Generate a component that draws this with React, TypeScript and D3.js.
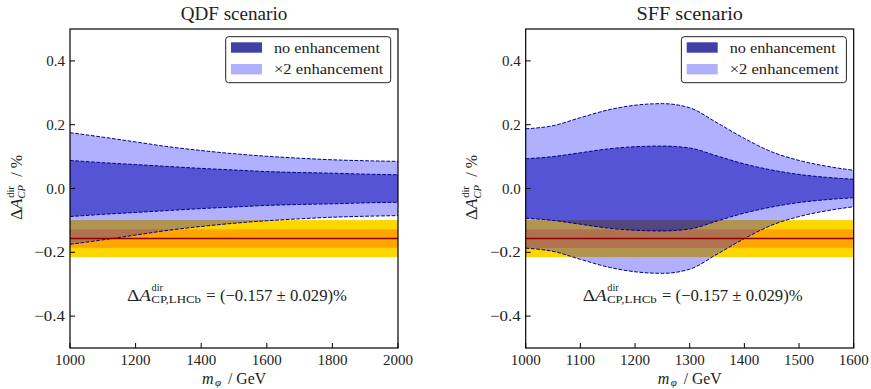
import React from 'react';
import * as d3 from 'd3';

// ---------- data ----------
const qdfMass = [1000, 1100, 1200, 1300, 1400, 1500, 1600, 1700, 1800, 1900, 2000];
const qdfNoEnhUpper = [0.088, 0.081, 0.075, 0.069, 0.063, 0.058, 0.053, 0.050, 0.048, 0.045, 0.043];
const qdfNoEnhLower = [-0.088, -0.081, -0.075, -0.069, -0.063, -0.058, -0.053, -0.050, -0.048, -0.045, -0.043];
const qdfX2Upper = [0.175, 0.161, 0.146, 0.131, 0.119, 0.109, 0.101, 0.095, 0.090, 0.087, 0.085];
const qdfX2Lower = [-0.175, -0.161, -0.146, -0.131, -0.119, -0.109, -0.101, -0.095, -0.090, -0.087, -0.085];

const sffMass = [1000, 1050, 1100, 1150, 1200, 1250, 1300, 1350, 1400, 1450, 1500, 1550, 1600];
const sffNoEnhUpper = [0.093, 0.100, 0.112, 0.124, 0.131, 0.133, 0.127, 0.102, 0.077, 0.058, 0.044, 0.035, 0.029];
const sffNoEnhLower = [-0.093, -0.100, -0.112, -0.124, -0.131, -0.133, -0.127, -0.102, -0.077, -0.058, -0.044, -0.035, -0.029];
const sffX2Upper = [0.187, 0.197, 0.222, 0.246, 0.261, 0.266, 0.253, 0.206, 0.157, 0.115, 0.088, 0.070, 0.057];
const sffX2Lower = [-0.187, -0.197, -0.222, -0.246, -0.261, -0.266, -0.253, -0.206, -0.157, -0.115, -0.088, -0.070, -0.057];

const lhcbCentral = -0.157;
const lhcbError = 0.029;

const yTicks = [-0.4, -0.2, 0.0, 0.2, 0.4];
const qdfXTicks = [1000, 1200, 1400, 1600, 1800, 2000];
const sffXTicks = [1000, 1100, 1200, 1300, 1400, 1500, 1600];
const legendLabels = ['no enhancement', '\u00d72 enhancement'];
const panelTitles = ['QDF scenario', 'SFF scenario'];

// ---------- styles ----------
const FONT = 'Liberation Serif';
const C_LIGHT = '#0000ff';
const C_DARK = '#0000ac';
const C_EDGE = '#00008b';
const C_GOLD = '#ffd700';
const C_ORANGE = '#ffa500';
const C_RED = '#8e0000';

type PanelProps = {
  x0: number;
  x1: number;
  title: string;
  mass: number[];
  noUp: number[];
  noLo: number[];
  x2Up: number[];
  x2Lo: number[];
  xDomain: [number, number];
  xTicks: number[];
};

const Y0 = 29;
const Y1 = 348;

function Panel(p: PanelProps) {
  const x = d3.scaleLinear().domain(p.xDomain).range([p.x0, p.x1]);
  const y = d3.scaleLinear().domain([-0.5, 0.5]).range([Y1, Y0]);
  const idx = p.mass.map((_, i) => i);
  const area = (up: number[], lo: number[]) =>
    d3
      .area<number>()
      .x((i) => x(p.mass[i]))
      .y0((i) => y(lo[i]))
      .y1((i) => y(up[i]))
      .curve(d3.curveMonotoneX)(idx) || '';
  const line = (vals: number[]) =>
    d3
      .line<number>()
      .x((i) => x(p.mass[i]))
      .y((i) => y(vals[i]))
      .curve(d3.curveMonotoneX)(idx) || '';

  const cx = (p.x0 + p.x1) / 2;
  const clipId = 'clip' + Math.round(p.x0);
  const legX = p.x1 - 7.3 - 165;
  const legY = 36.7;
  const annStart = cx - 107;
  const annBase = 300.5;
  const ylx = p.x0 - 53.3;
  const yly = 188;

  return (
    <g>
      <defs>
        <clipPath id={clipId}>
          <rect x={p.x0} y={Y0} width={p.x1 - p.x0} height={Y1 - Y0} />
        </clipPath>
      </defs>
      <g clipPath={`url(#${clipId})`}>
        <rect x={p.x0} y={y(lhcbCentral + 2 * lhcbError)} width={p.x1 - p.x0}
          height={y(lhcbCentral - 2 * lhcbError) - y(lhcbCentral + 2 * lhcbError)} fill={C_GOLD} />
        <rect x={p.x0} y={y(lhcbCentral + lhcbError)} width={p.x1 - p.x0}
          height={y(lhcbCentral - lhcbError) - y(lhcbCentral + lhcbError)} fill={C_ORANGE} />
        <path d={area(p.x2Up, p.x2Lo)} fill={C_LIGHT} fillOpacity={0.31} />
        <path d={area(p.noUp, p.noLo)} fill={C_DARK} fillOpacity={0.52} />
        {[p.x2Up, p.x2Lo, p.noUp, p.noLo].map((v, k) => (
          <path key={k} d={line(v)} fill="none" stroke={C_EDGE} strokeWidth={1} strokeDasharray="3.7,1.6" />
        ))}
        <line x1={p.x0} x2={p.x1} y1={y(lhcbCentral)} y2={y(lhcbCentral)} stroke={C_RED} strokeWidth={1.5} />
      </g>
      {/* frame */}
      <rect x={p.x0} y={Y0} width={p.x1 - p.x0} height={Y1 - Y0} fill="none" stroke="#000" strokeWidth={1.2} />
      {/* y ticks */}
      {yTicks.map((t) => (
        <g key={'y' + t}>
          <line x1={p.x0} x2={p.x0 + 5} y1={y(t)} y2={y(t)} stroke="#000" strokeWidth={1} />
          <text x={p.x0 - 5} y={y(t) + 5} textAnchor="end" fontFamily={FONT} fontSize={15} fill="#222"
            {...(t < 0 ? { textLength: 30.7, lengthAdjust: 'spacingAndGlyphs' } : {})}>
            {t < 0 ? '\u2212' + Math.abs(t).toFixed(1) : t.toFixed(1)}
          </text>
        </g>
      ))}
      {/* x ticks */}
      {p.xTicks.map((t) => (
        <g key={'x' + t}>
          <line x1={x(t)} x2={x(t)} y1={Y1} y2={Y1 - 5} stroke="#000" strokeWidth={1} />
          <text x={x(t)} y={364.5} textAnchor="middle" fontFamily={FONT} fontSize={15} fill="#222">
            {t}
          </text>
        </g>
      ))}
      {/* title */}
      <text x={cx} y={19.5} textAnchor="middle" fontFamily={FONT} fontSize={18} fill="#222"
        textLength={106.6} lengthAdjust="spacingAndGlyphs">
        {p.title}
      </text>
      {/* x label */}
      <g fontFamily={FONT} fill="#222">
        <text x={cx - 32} y={383.5} fontSize={16} fontStyle="italic">m</text>
        <text x={cx - 19} y={385.5} fontSize={11} fontStyle="italic">{'\u03c6'}</text>
        <text x={cx - 6} y={383.5} fontSize={16} textLength={38} lengthAdjust="spacingAndGlyphs">/ GeV</text>
      </g>
      {/* y label */}
      <g transform={`translate(${ylx},${yly}) rotate(-90)`} fontFamily={FONT} fill="#222">
        <text x={-32} y={5} fontSize={16} textLength={21.5} lengthAdjust="spacingAndGlyphs">
          {'\u0394'}<tspan fontStyle="italic">A</tspan>
        </text>
        <text x={-9.8} y={-3} fontSize={10.5}>dir</text>
        <text x={-10.5} y={8.5} fontSize={10.5} fontStyle="italic">CP</text>
        <text x={11.3} y={5} fontSize={16} textLength={21.7} lengthAdjust="spacingAndGlyphs">/ %</text>
      </g>
      {/* annotation */}
      <g fontFamily={FONT} fill="#222">
        <text x={annStart} y={annBase} fontSize={17} textLength={24} lengthAdjust="spacingAndGlyphs">
          {'\u0394'}<tspan fontStyle="italic">A</tspan>
        </text>
        <text x={annStart + 24.6} y={annBase - 9.5} fontSize={11} textLength={11.4} lengthAdjust="spacingAndGlyphs">dir</text>
        <text x={annStart + 24.3} y={annBase + 2.3} fontSize={11} textLength={49.7} lengthAdjust="spacingAndGlyphs">CP,LHCb</text>
        <text x={annStart + 79.3} y={annBase} fontSize={17} textLength={140.7} lengthAdjust="spacingAndGlyphs">
          {'= (\u22120.157 \u00b1 0.029)%'}
        </text>
      </g>
      {/* legend */}
      <g>
        <rect x={legX} y={legY} width={165} height={46} rx={3} ry={3} fill="#fff" fillOpacity={0.8} stroke="#222" strokeWidth={1} />
        <rect x={legX + 5.3} y={legY + 5.6} width={31} height={10.4} fill="#4040a8" />
        <rect x={legX + 5.3} y={legY + 27.3} width={31} height={10.4} fill="#b0b0ff" />
        <text x={legX + 48.3} y={legY + 16} fontFamily={FONT} fontSize={15} fill="#222"
          textLength={106} lengthAdjust="spacingAndGlyphs">{legendLabels[0]}</text>
        <text x={legX + 48.3} y={legY + 37.5} fontFamily={FONT} fontSize={15} fill="#222"
          textLength={109.3} lengthAdjust="spacingAndGlyphs">{legendLabels[1]}</text>
      </g>
    </g>
  );
}

export default function App() {
  return (
    <svg width={871} height={389} viewBox="0 0 871 389"
      style={{ position: 'absolute', left: 0, top: 0, background: '#fff' }}>
      <rect x={0} y={0} width={871} height={389} fill="#fff" />
      <Panel x0={70} x1={398} title={panelTitles[0]} mass={qdfMass}
        noUp={qdfNoEnhUpper} noLo={qdfNoEnhLower} x2Up={qdfX2Upper} x2Lo={qdfX2Lower}
        xDomain={[1000, 2000]} xTicks={qdfXTicks} />
      <Panel x0={525.7} x1={853.7} title={panelTitles[1]} mass={sffMass}
        noUp={sffNoEnhUpper} noLo={sffNoEnhLower} x2Up={sffX2Upper} x2Lo={sffX2Lower}
        xDomain={[1000, 1600]} xTicks={sffXTicks} />
    </svg>
  );
}
